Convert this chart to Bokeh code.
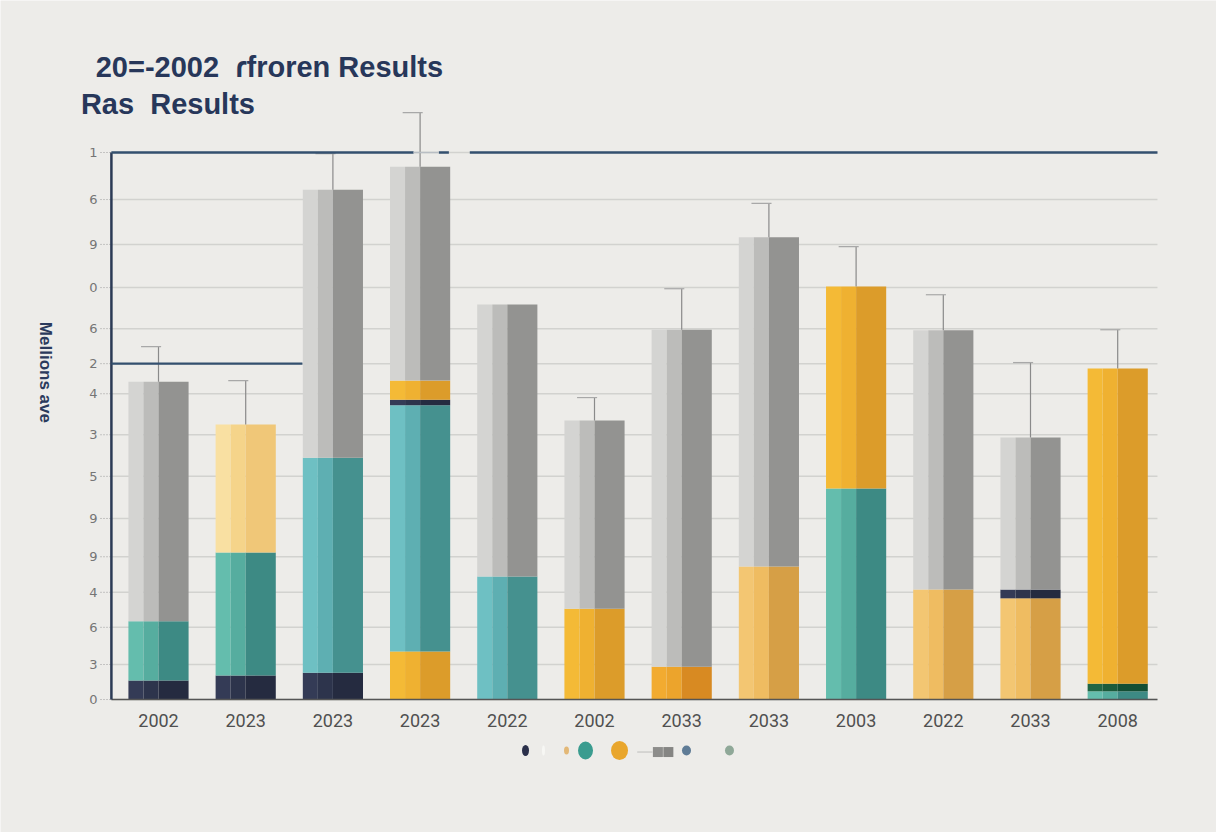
import math
from bokeh.plotting import figure
from bokeh.models import Range1d, Label, ColumnDataSource
from bokeh.core.properties import value
from bokeh.embed import file_html
from bokeh.resources import INLINE

# ---------------- data ----------------
years = ["2002", "2023", "2023", "2023", "2022", "2002",
         "2033", "2033", "2003", "2022", "2033", "2008"]

# stacked segments per bar, bottom -> top
stack_series = [
    ["navy", "teal", "gray"],
    ["navy", "teal", "paleyellow"],
    ["navy", "tealblue", "gray"],
    ["yellow", "tealblue", "navy", "yellow", "gray"],
    ["tealblue", "gray"],
    ["yellow", "gray"],
    ["orange", "gray"],
    ["lightorange", "gray"],
    ["teal", "yellow"],
    ["lightorange", "gray"],
    ["lightorange", "navy", "gray"],
    ["teal", "darkgreen", "yellow"],
]
stack_values = [
    [3.5, 10.8, 43.8],
    [4.4, 22.5, 23.4],
    [4.9, 39.3, 49.0],
    [8.8, 45.0, 1.0, 3.5, 39.1],
    [22.5, 49.7],
    [16.6, 34.4],
    [6.0, 61.6],
    [24.3, 60.2],
    [38.6, 36.9],
    [20.1, 47.4],
    [18.5, 1.6, 27.8],
    [1.5, 1.4, 57.6],
]
whisker_tops = [64.5, 58.3, 99.8, 107.3, None, 55.2, 75.1, 90.7, 82.8, 74.0, 61.6, 67.6]

tick_values = [0, 6.4, 13.2, 19.6, 26.1, 33.1, 40.8, 48.4, 55.9, 61.4, 67.8, 75.3, 83.2, 91.4, 100]
tick_labels = ["0", "3", "6", "4", "9", "9", "5", "3", "4", "2", "6", "0", "9", "6", "1"]

title_line1 = "20=-2002\u00a0\u00a0ɾfroren Results"
title_line2 = "Ras\u00a0\u00a0Results"
y_title = "Mellions ave"

legend_colors = ["#2a2f4a", "#f7f7f4", "#e3b877", "#3a9c8f", "#e9a62c", "#5f7c96", "#8fa898"]

# ---------------- styles / layout ----------------
palette = {
    "navy":        ["#343b56", "#2d344c", "#252b40"],
    "teal":        ["#64bdad", "#56ad9f", "#3d8a84"],
    "tealblue":    ["#6ec0c3", "#5eafb2", "#45918f"],
    "gray":        ["#d4d4d2", "#bcbcba", "#939391"],
    "paleyellow":  ["#f9e0a2", "#f5d48a", "#f0c778"],
    "yellow":      ["#f4ba36", "#efb131", "#dc9c2a"],
    "orange":      ["#f2ab30", "#eca42c", "#d88a22"],
    "lightorange": ["#f3c672", "#efbc61", "#d69f46"],
    "darkgreen":   ["#206645", "#1b5b3c", "#134e34"],
}
bar_w = 0.69
bg = "#edece9"
x_left, x_right = -0.54, 11.456

p = figure(width=1216, height=832, output_backend="svg", toolbar_location=None,
           x_range=Range1d(-1.8119, 12.133), y_range=Range1d(-24.31, 127.79),
           x_axis_location=None, y_axis_location=None, min_border=0)
p.background_fill_color = bg
p.border_fill_color = bg
p.outline_line_color = None
p.grid.visible = False

# grid lines, tick marks, tick labels
n = len(tick_values)
p.segment(x0=[x_left] * n, y0=tick_values, x1=[x_right] * n, y1=tick_values,
          line_color="#d2d2cf", line_width=1.5)
p.segment(x0=[-0.665] * n, y0=tick_values, x1=[x_left] * n, y1=tick_values,
          line_color="#9a9a9a", line_width=1, line_dash="1 2")
p.text(x=[-0.70] * n, y=tick_values, text=tick_labels,
       text_font=value("DejaVu Sans"), text_font_size="13px", text_color="#757575",
       text_align="right", text_baseline="middle")

# ---------------- bars ----------------
xs, ws, bots, tops, cols = [], [], [], [], []
for i, (sers, vals) in enumerate(zip(stack_series, stack_values)):
    base = 0.0
    for s, v in zip(sers, vals):
        c = palette[s]
        pieces = [(i - 3 * bar_w / 8, bar_w / 4, c[0]),
                  (i - bar_w / 8, bar_w / 4, c[1]),
                  (i + bar_w / 4, bar_w / 2, c[2])]
        for x, w, col in pieces:
            xs.append(x); ws.append(w); bots.append(base); tops.append(base + v); cols.append(col)
        base += v

src = ColumnDataSource(dict(x=xs, w=ws, bottom=bots, top=tops, color=cols))
p.vbar(x="x", width="w", bottom="bottom", top="top", fill_color="color", line_color=None, source=src)

# whiskers
wx0, wy0, wx1, wy1 = [], [], [], []
cx0, cy0, cx1, cy1 = [], [], [], []
for i, wt in enumerate(whisker_tops):
    if wt is None:
        continue
    top = sum(stack_values[i])
    wx0.append(i); wy0.append(top); wx1.append(i); wy1.append(wt)
    cx0.append(i - 0.2); cy0.append(wt); cx1.append(i + 0.03); cy1.append(wt)
p.segment(x0=wx0, y0=wy0, x1=wx1, y1=wy1, line_color="#8a8a8a", line_width=1.2)
p.segment(x0=cx0, y0=cy0, x1=cx1, y1=cy1, line_color="#a8a8a8", line_width=1.2)

# baseline, left axis line and navy reference lines
p.segment(x0=[x_left], y0=[0], x1=[x_right], y1=[0], line_color="#555555", line_width=1.5)
p.segment(x0=[x_left], y0=[0], x1=[x_left], y1=[100], line_color="#2b3a55", line_width=2.5)
p.segment(x0=[x_left, 3.215, 3.57], y0=[100, 100, 100], x1=[2.925, 3.33, x_right], y1=[100, 100, 100],
          line_color="#34506f", line_width=2.5)
p.segment(x0=[2.925], y0=[100], x1=[3.215], y1=[100], line_color="#b9bec4", line_width=1.5)
p.segment(x0=[x_left], y0=[61.4], x1=[1.65], y1=[61.4], line_color="#34506f", line_width=2.2)

# x category labels
p.text(x=list(range(len(years))), y=[-3.9] * len(years), text=years,
       text_font=value("Roboto"), text_font_size="18px", text_color="#505050",
       text_align="center", text_baseline="middle")

# legend-like markers
lx = [4.209, 4.415, 4.679, 4.897, 5.287, 6.055, 6.548]
lw = [7, 3, 5, 15, 17, 9, 9]
lh = [11, 10, 8, 18, 19, 10, 10]
p.ellipse(x=lx, y=[-9.32] * len(lx), width=lw, height=lh,
          width_units="screen", height_units="screen",
          fill_color=legend_colors, line_color=None)
p.segment(x0=[5.49], y0=[-9.6], x1=[5.665], y1=[-9.6], line_color="#bdbdbb", line_width=1)
p.rect(x=[5.727, 5.847], y=[-9.6, -9.6], width=[10, 10], height=[10, 10],
       width_units="screen", height_units="screen",
       fill_color=["#8d8d8b", "#858583"], line_color=None)

# titles
p.add_layout(Label(x=-0.72, y=115.7, text=title_line1, text_font="Liberation Sans",
                   text_font_style="bold", text_font_size="29px", text_color="#27375a",
                   text_align="left", text_baseline="alphabetic"))
p.add_layout(Label(x=-0.89, y=108.96, text=title_line2, text_font="Liberation Sans",
                   text_font_style="bold", text_font_size="29px", text_color="#27375a",
                   text_align="left", text_baseline="alphabetic"))
p.add_layout(Label(x=-1.295, y=59.8, text=y_title, text_font="Liberation Sans",
                   text_font_style="bold", text_font_size="17px", text_color="#2b3a5c",
                   angle=-math.pi / 2, text_align="center", text_baseline="middle"))

open("out.html", "w").write(file_html(p, INLINE))
